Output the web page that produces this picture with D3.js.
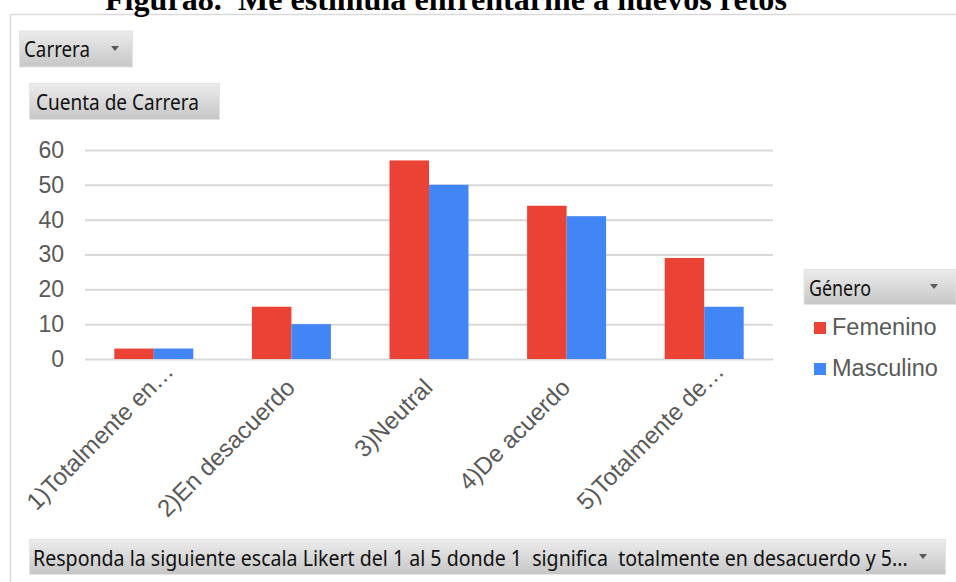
<!DOCTYPE html>
<html>
<head>
<meta charset="utf-8">
<script src="https://cdn.jsdelivr.net/npm/d3@7"></script>
<style>
html,body{margin:0;padding:0;background:#fff;}
svg{display:block;}
text{white-space:pre;}
</style>
</head>
<body>
<svg id="chart" width="956" height="582"></svg>
<script>
// ---- data ----
const titleText = "Figura8.  Me estimula enfrentarme a nuevos retos";
const categories = ["1)Totalmente en…", "2)En desacuerdo", "3)Neutral", "4)De acuerdo", "5)Totalmente de…"];
const seriesNames = ["Femenino", "Masculino"];
const femenino = [3, 15, 57, 44, 29];
const masculino = [3, 10, 50, 41, 15];
const yTicks = [0, 10, 20, 30, 40, 50, 60];
const seriesColors = ["#EA4335", "#4285F4"];
const filterLabel = "Carrera";
const valueLabel = "Cuenta de Carrera";
const legendTitle = "Género";
const axisFieldLabel = "Responda la siguiente escala Likert del 1 al 5 donde 1  significa  totalmente en desacuerdo y 5...";

const values = [femenino, masculino];
const rows = categories.map((c, i) => ({cat: c, vals: seriesNames.map((s, j) => ({s, v: values[j][i]}))}));

const svg = d3.select("#chart");
const defs = svg.append("defs");
const grad = defs.append("linearGradient").attr("id", "btn").attr("x1", 0).attr("y1", 0).attr("x2", 0).attr("y2", 1);
grad.append("stop").attr("offset", "0%").attr("stop-color", "#ececec");
grad.append("stop").attr("offset", "100%").attr("stop-color", "#c6c6c6");

// frame
svg.append("rect").attr("x", 10.5).attr("y", 14.5).attr("width", 980).attr("height", 600)
  .attr("fill", "none").attr("stroke", "#d9d9d9").attr("stroke-width", 1.5);

// title (partially clipped at top, as in the source)
const title = svg.append("text").attr("x", 0).attr("y", 10)
  .attr("font-family", "'Liberation Serif','Times New Roman',serif").attr("font-weight", "bold")
  .attr("font-size", 30).attr("fill", "#000").text(titleText);
{
  const w = title.node().getComputedTextLength();
  const fs = 30 * 682 / w;
  title.attr("font-size", fs).attr("x", 105);
}

// scales
const x0 = d3.scaleBand().domain(categories).range([85, 773]).paddingInner(0.426).paddingOuter(0.213);
const x1 = d3.scaleBand().domain(seriesNames).range([0, x0.bandwidth()]).padding(0);
const y = d3.scaleLinear().domain([0, 60]).range([359, 150]);
const color = d3.scaleOrdinal().domain(seriesNames).range(seriesColors);

// gridlines + y labels
const yAxis = d3.axisLeft(y).tickValues(yTicks).tickSize(-(773 - 85)).tickPadding(21);
const gy = svg.append("g").attr("transform", "translate(85,0)").call(yAxis);
gy.select(".domain").remove();
gy.selectAll(".tick line").attr("stroke", "#d9d9d9").attr("stroke-width", 2);
gy.selectAll(".tick text").attr("font-family", "'Liberation Sans',Arial,sans-serif")
  .attr("font-size", 23).attr("fill", "#595959");

// bars
const groups = svg.append("g").selectAll("g").data(rows).join("g")
  .attr("transform", d => `translate(${x0(d.cat)},0)`);
groups.selectAll("rect").data(d => d.vals).join("rect")
  .attr("x", d => x1(d.s)).attr("width", x1.bandwidth())
  .attr("y", d => y(d.v)).attr("height", d => y(0) - y(d.v))
  .attr("fill", d => color(d.s));

// x labels rotated (truncated labels are laid out with extra room, as Excel does)
const xAxis = d3.axisBottom(x0).tickSize(0).tickPadding(0);
const gx = svg.append("g").attr("transform", "translate(0,359)").call(xAxis);
gx.select(".domain").remove();
gx.selectAll(".tick text")
  .attr("font-family", "'Liberation Sans',Arial,sans-serif").attr("font-size", 24).attr("fill", "#595959")
  .attr("text-anchor", "end").attr("dy", 0).attr("y", 0)
  .attr("dx", d => d.endsWith("…") ? 23 : 0)
  .attr("transform", "translate(5,30) rotate(-45)");

// buttons
function button(x, yy, w, h, label, textX, baseline, textW, arrowX) {
  const g = svg.append("g");
  g.append("rect").attr("x", x).attr("y", yy).attr("width", w).attr("height", h)
    .attr("fill", "url(#btn)").attr("stroke", "#e4e4e4").attr("stroke-width", 1);
  const t = g.append("text").attr("font-family", "'Noto Sans','DejaVu Sans',sans-serif")
    .attr("font-size", 21).attr("fill", "#111").text(label);
  const lw = t.node().getComputedTextLength();
  const sx = textW / lw;
  t.attr("transform", `translate(${textX},${baseline}) scale(${sx},1)`);
  if (arrowX != null) {
    const cy = yy + h / 2 - 1;
    g.append("path").attr("d", `M${arrowX - 4},${cy - 2} L${arrowX + 4},${cy - 2} L${arrowX},${cy + 3} Z`)
      .attr("fill", "#595959");
  }
}
button(19.5, 31, 113, 36, filterLabel, 24, 57, 66, 115);
button(29.5, 83.5, 190, 36, valueLabel, 36, 110, 163, null);
button(804, 269.5, 152, 35, legendTitle, 809, 296, 62, 934);
button(29.5, 539.5, 916, 35, axisFieldLabel, 33, 566, 875, 923);

// legend
const leg = svg.append("g").selectAll("g").data(seriesNames).join("g")
  .attr("transform", (d, i) => `translate(814,${322 + i * 41})`);
leg.append("rect").attr("width", 12).attr("height", 12).attr("fill", d => color(d));
leg.append("text").attr("x", 18).attr("y", 13)
  .attr("font-family", "'Liberation Sans',Arial,sans-serif").attr("font-size", 23.5).attr("fill", "#595959")
  .text(d => d);
</script>
</body>
</html>
